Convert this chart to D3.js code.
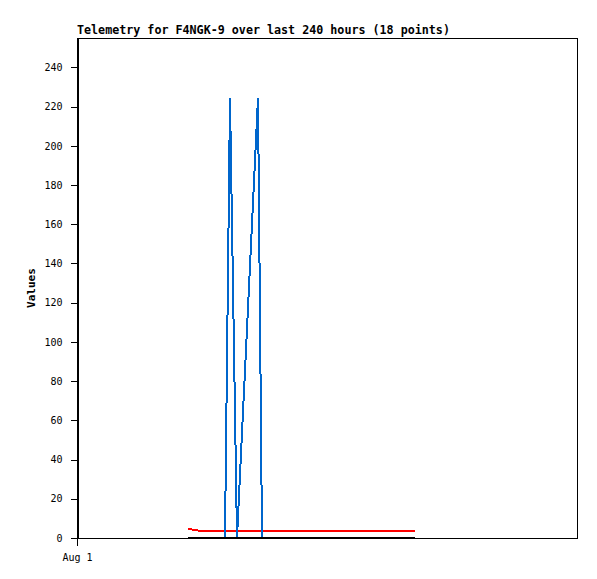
<!DOCTYPE html>
<html>
<head>
<meta charset="utf-8">
<script src="https://cdn.jsdelivr.net/npm/d3@7"></script>
<style>
  html, body { margin: 0; padding: 0; background: #fff; }
  svg { display: block; }
  text { font-family: "DejaVu Sans Mono", monospace; fill: #000; }
</style>
</head>
<body>
<svg id="chart" width="597" height="579"></svg>
<script>
// ---- data ----
const times = [
  "2024-08-03 05:17", "2024-08-03 07:12", "2024-08-03 11:02", "2024-08-03 13:26",
  "2024-08-03 16:48", "2024-08-03 19:41", "2024-08-03 23:02", "2024-08-04 01:26",
  "2024-08-04 04:48", "2024-08-04 14:53", "2024-08-04 16:48", "2024-08-05 01:26",
  "2024-08-05 11:02", "2024-08-05 23:02", "2024-08-06 11:02", "2024-08-06 23:02",
  "2024-08-07 08:38", "2024-08-07 18:14"
];
const blueValues  = [0, 0, 0, 0, 0, 0, 0, 224.5, 0, 224.5, 0, 0, 0, 0, 0, 0, 0, 0];
const redValues   = [4.8, 4.3, 3.7, 3.7, 3.7, 3.7, 3.7, 3.7, 3.7, 3.7, 3.7, 3.7, 3.7, 3.7, 3.7, 3.7, 3.7, 3.7];
const blackValues = [0, 0, 0, 0, 0, 0, 0, 0, 0, 0, 0, 0, 0, 0, 0, 0, 0, 0];
const yTickValues = [0, 20, 40, 60, 80, 100, 120, 140, 160, 180, 200, 220, 240];
const xTickLabels = ["Aug 1"];
const xDomainStart = "2024-08-01 00:00";
const xDomainEnd   = "2024-08-11 00:00";
const yMax = 255;
const titleText = "Telemetry for F4NGK-9 over last 240 hours (18 points)";
const yAxisLabel = "Values";

// ---- layout ----
const parse = d3.utcParse("%Y-%m-%d %H:%M");
const mLeft = 77, mRight = 577, mTop = 38, mBottom = 538;
const svg = d3.select("#chart");

const x = d3.scaleUtc().domain([parse(xDomainStart), parse(xDomainEnd)]).range([mLeft, mRight]);
const y = d3.scaleLinear().domain([0, yMax]).range([mBottom, mTop]);

const pts = times.map((t, i) => ({ t: parse(t), b: blueValues[i], r: redValues[i], k: blackValues[i] }));

// frame
svg.append("path")
  .attr("d", `M${mLeft + 0.5},${mBottom + 0.5}V${mTop + 0.5}H${mRight + 0.5}V${mBottom + 0.5}H${mLeft + 0.5}`)
  .attr("fill", "none").attr("stroke", "#000").attr("stroke-width", 1)
  .attr("shape-rendering", "crispEdges");

// y axis
const yAxis = svg.append("g")
  .attr("transform", `translate(${mLeft + 0.5},0)`)
  .call(d3.axisLeft(y).tickValues(yTickValues).tickSize(7).tickSizeOuter(0).tickPadding(8));
yAxis.selectAll("path.domain").attr("shape-rendering", "crispEdges");
yAxis.selectAll(".tick line").attr("shape-rendering", "crispEdges");
yAxis.selectAll("text").attr("font-family", "DejaVu Sans Mono").attr("font-size", 10).attr("fill", "#000");

// x axis
const xAxis = svg.append("g")
  .attr("transform", `translate(0,${mBottom + 0.5})`)
  .call(d3.axisBottom(x).tickValues([parse(xDomainStart)]).tickFormat((d, i) => xTickLabels[i])
    .tickSize(7).tickSizeOuter(0).tickPadding(8));
xAxis.select("path.domain").remove();
xAxis.selectAll(".tick line").attr("shape-rendering", "crispEdges");
xAxis.selectAll("text").attr("font-family", "DejaVu Sans Mono").attr("font-size", 10).attr("fill", "#000");

// series
const mk = key => d3.line().x(d => x(d.t)).y(d => y(d[key]));
svg.append("path").datum(pts).attr("d", mk("r"))
  .attr("fill", "none").attr("stroke", "#ff0000").attr("stroke-width", 2)
  .attr("shape-rendering", "crispEdges");
svg.append("path").datum(pts).attr("d", mk("b"))
  .attr("fill", "none").attr("stroke", "#0066cc").attr("stroke-width", 2)
  .attr("shape-rendering", "crispEdges");
svg.append("path").datum(pts).attr("d", mk("k"))
  .attr("fill", "none").attr("stroke", "#000").attr("stroke-width", 2)
  .attr("shape-rendering", "crispEdges");

// title
svg.append("text").attr("x", mLeft).attr("y", 34)
  .attr("font-size", 11.7).attr("font-weight", "bold").text(titleText);

// y label
svg.append("text")
  .attr("transform", `translate(35,${(mTop + mBottom) / 2}) rotate(-90)`)
  .attr("text-anchor", "middle").attr("font-size", 11).attr("font-weight", "bold")
  .text(yAxisLabel);
</script>
</body>
</html>
